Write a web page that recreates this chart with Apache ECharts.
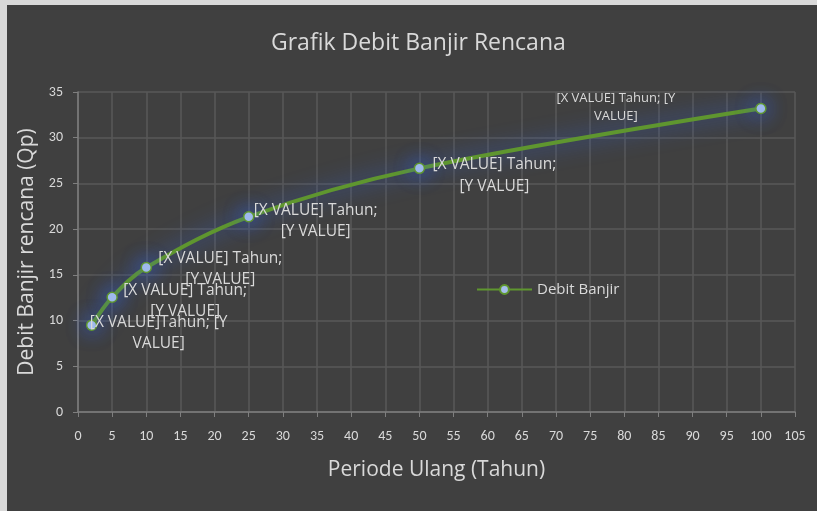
<!DOCTYPE html>
<html>
<head>
<meta charset="utf-8">
<script src="https://cdn.jsdelivr.net/npm/echarts@6/dist/echarts.min.js"></script>
<style>
	html, body { margin: 0; padding: 0; background: #d9d9d9; }
	#chart { position: absolute; left: 7px; top: 5px; width: 810px; height: 506px; background: #404040; }
</style>
</head>
<body>
<div id="chart"></div>
<script>
	'use strict'
	/*-----data-----*/
	var periode = [2, 5, 10, 25, 50, 100];
	var debit = [9.5, 12.55, 15.8, 21.35, 26.65, 33.2];
	var labelTexts = [
		'[X VALUE]Tahun; [Y\nVALUE]',
		'[X VALUE] Tahun;\n[Y VALUE]',
		'[X VALUE] Tahun;\n[Y VALUE]',
		'[X VALUE] Tahun;\n[Y VALUE]',
		'[X VALUE] Tahun;\n[Y VALUE]',
		'[X VALUE] Tahun; [Y\nVALUE]'
	];
	// label placement (offset from point centre, font size, line height)
	var labelLayout = [
		[67, 8, 15.5, 21],
		[73, 4, 15.5, 21],
		[74, 2, 15.5, 21],
		[67, 4, 15.5, 21],
		[75, 7, 15.5, 22],
		[-145, -1, 13, 18]
	];
	var font = 'Carlito, "Liberation Sans", sans-serif';
	var wideFont = '"Open Sans", sans-serif';
	var textColor = '#d9d9d9';

	var seriesData = periode.map(function(x, i) {
		var l = labelLayout[i];
		return {
			value: [x, debit[i]],
			label: {
				offset: [l[0], l[1]],
				fontSize: l[2],
				lineHeight: l[3]
			}
		};
	});

	var chart = echarts.init(document.getElementById('chart'));
	var option = {
		backgroundColor: '#404040',
		animation: false,
		title: {
			text: 'Grafik Debit Banjir Rencana',
			left: 259,
			top: 22,
			textStyle: {
				color: textColor,
				fontFamily: wideFont,
				fontSize: 23,
				fontWeight: 'normal'
			}
		},
		legend: {
			left: 464,
			top: 272,
			itemWidth: 55,
			itemHeight: 11,
			itemGap: 6,
			textStyle: {
				color: textColor,
				fontFamily: wideFont,
				fontSize: 15
			},
			data: ['Debit Banjir']
		},
		grid: {
			left: 71,
			right: 22,
			top: 87,
			bottom: 99
		},
		xAxis: {
			type: 'value',
			min: 0,
			max: 105,
			interval: 5,
			name: 'Periode Ulang (Tahun)',
			nameLocation: 'middle',
			nameGap: 48,
			nameTextStyle: {
				color: textColor,
				fontFamily: wideFont,
				fontSize: 21
			},
			axisLine: {
				lineStyle: {
					color: '#7f7f7f',
					width: 1.5
				}
			},
			axisTick: {
				show: true,
				length: 5,
				lineStyle: {
					color: '#7f7f7f'
				}
			},
			axisLabel: {
				color: textColor,
				fontFamily: font,
				fontSize: 14,
				margin: 17
			},
			splitLine: {
				show: true,
				lineStyle: {
					color: '#595959',
					width: 1.5
				}
			}
		},
		yAxis: {
			type: 'value',
			min: 0,
			max: 35,
			interval: 5,
			name: 'Debit Banjir rencana (Qp)',
			nameLocation: 'middle',
			nameGap: 38,
			nameTextStyle: {
				color: textColor,
				fontFamily: wideFont,
				fontSize: 21
			},
			axisLine: {
				show: true,
				lineStyle: {
					color: '#7f7f7f',
					width: 1.5
				}
			},
			axisTick: {
				show: true,
				length: 5,
				lineStyle: {
					color: '#7f7f7f'
				}
			},
			axisLabel: {
				color: textColor,
				fontFamily: font,
				fontSize: 14,
				margin: 15
			},
			splitLine: {
				show: true,
				lineStyle: {
					color: '#595959',
					width: 1.5
				}
			}
		},
		series: [{
			name: 'Debit Banjir',
			type: 'line',
			smooth: 0.35,
			data: seriesData,
			symbol: 'circle',
			symbolSize: 10,
			lineStyle: {
				color: '#5f962f',
				width: 4,
				shadowColor: 'rgba(50, 100, 225, 0.95)',
				shadowBlur: 22
			},
			itemStyle: {
				color: '#a6bfec',
				borderColor: '#5f962f',
				borderWidth: 1.5,
				shadowColor: 'rgba(50, 100, 240, 1)',
				shadowBlur: 20
			},
			label: {
				show: true,
				position: 'inside',
				align: 'center',
				verticalAlign: 'middle',
				color: textColor,
				fontFamily: wideFont,
				formatter: function(p) {
					return labelTexts[p.dataIndex];
				}
			},
			emphasis: {
				disabled: true
			}
		}]
	};
	chart.setOption(option);
</script>
</body>
</html>
